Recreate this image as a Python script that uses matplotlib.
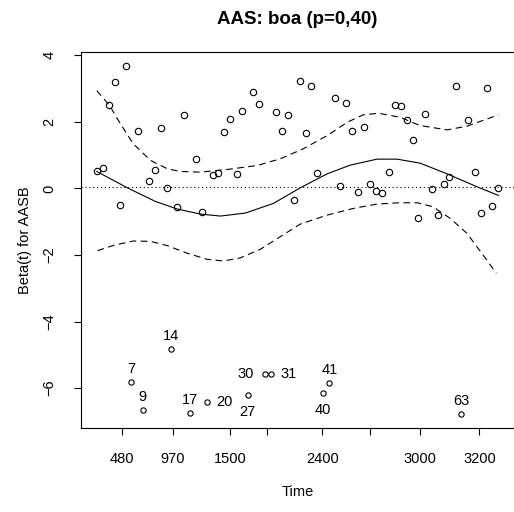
import numpy as np
import matplotlib
matplotlib.use('Agg')
import matplotlib.pyplot as plt

plt.rcParams['font.family'] = ['Liberation Sans', 'DejaVu Sans']
plt.rcParams['font.size'] = 10.5

# scaled residuals vs transformed (KM) time, one per event, index = point id
km_time = [0.000, 0.015, 0.030, 0.045, 0.057, 0.072, 0.086, 0.102, 0.114, 0.129,
           0.144, 0.159, 0.174, 0.186, 0.201, 0.216, 0.231, 0.246, 0.261, 0.274,
           0.289, 0.303, 0.318, 0.333, 0.348, 0.361, 0.376, 0.390, 0.405, 0.420,
           0.433, 0.447, 0.462, 0.477, 0.492, 0.506, 0.520, 0.534, 0.549, 0.563,
           0.579, 0.594, 0.606, 0.621, 0.636, 0.651, 0.665, 0.681, 0.696, 0.711,
           0.727, 0.742, 0.757, 0.772, 0.787, 0.801, 0.817, 0.834, 0.849, 0.864,
           0.878, 0.894, 0.908, 0.924, 0.941, 0.956, 0.971, 0.985, 1.000]
resid = [0.51, 0.60, 2.52, 3.21, -0.51, 3.69, -5.82, 1.73, -6.67, 0.21,
         0.54, 1.83, 0.00, -4.83, -0.57, 2.22, -6.75, 0.87, -0.70, -6.42,
         0.41, 0.45, 1.71, 2.10, 0.42, 2.34, -6.21, 2.91, 2.55, -5.58,
         -5.58, 2.31, 1.74, 2.22, -0.36, 3.24, 1.68, 3.09, 0.45, -6.14,
         -5.85, 2.73, 0.08, 2.58, 1.74, -0.12, 1.86, 0.12, -0.08, -0.15,
         0.49, 2.52, 2.49, 2.07, 1.47, -0.90, 2.25, -0.03, -0.80, 0.12,
         0.35, 3.09, -6.78, 2.07, 0.49, -0.75, 3.01, -0.54, 0.00]

# identified outliers and where their label sits
outlier_ids = [7, 9, 14, 17, 20, 27, 30, 31, 40, 41, 63]
outlier_pos = ['above', 'above', 'above', 'above', 'right', 'below',
               'left', 'right', 'below', 'above', 'above']

# smoothed beta(t) and its band
fit_x = [0.000, 0.076, 0.146, 0.201, 0.258, 0.308, 0.370, 0.440, 0.507, 0.574,
         0.631, 0.698, 0.748, 0.805, 0.868, 0.947, 1.000]
fit_y = [0.51, 0.02, -0.39, -0.62, -0.77, -0.83, -0.74, -0.45, 0.02, 0.44,
         0.70, 0.88, 0.88, 0.76, 0.46, 0.05, -0.21]
up_x = [0.000, 0.032, 0.059, 0.091, 0.134, 0.176, 0.208, 0.258, 0.325, 0.400,
        0.457, 0.514, 0.574, 0.624, 0.663, 0.701, 0.755, 0.805, 0.872, 0.922, 1.000]
up_y = [2.94, 2.49, 1.94, 1.34, 0.84, 0.59, 0.51, 0.49, 0.57, 0.69,
        0.89, 1.19, 1.59, 1.99, 2.21, 2.26, 2.14, 1.89, 1.76, 1.87, 2.21]
lo_x = [0.002, 0.042, 0.091, 0.134, 0.176, 0.226, 0.275, 0.315, 0.357, 0.407,
        0.457, 0.507, 0.574, 0.639, 0.698, 0.755, 0.798, 0.837, 0.880, 0.922,
        0.962, 0.995]
lo_y = [-1.87, -1.71, -1.58, -1.59, -1.72, -1.95, -2.13, -2.18, -2.09, -1.83,
        -1.45, -1.07, -0.80, -0.60, -0.47, -0.43, -0.43, -0.55, -0.90, -1.35,
        -2.00, -2.55]
coef = 0.03

tick_pos = [0.063, 0.190, 0.333, 0.425, 0.562, 0.681, 0.805, 0.953]
tick_lab = ['480', '970', '1500', '', '2400', '', '3000', '3200']

W, H = 514, 512
fig = plt.figure(figsize=(W / 100, H / 100), dpi=100)
ax = fig.add_axes([80.7 / W, (H - 428) / H, (514.4 - 80.7) / W, (428 - 51.7) / H])

x = np.array(km_time)
y = np.array(resid)
is_out = np.zeros(len(x), bool)
is_out[np.array(outlier_ids) - 1] = True

ax.plot(x[~is_out], y[~is_out], 'o', ms=4.6, mfc='none', mec='black', mew=0.8)
ax.plot(x[is_out], y[is_out], 'o', ms=3.8, mfc='none', mec='black', mew=0.8)

offsets = {'above': (0, 9.6, 'center', 'center'),
           'below': (0, -12.5, 'center', 'center'),
           'right': (7, 0, 'left', 'center'),
           'left': (-8, 0, 'right', 'center')}
for i, pos in zip(outlier_ids, outlier_pos):
    dx, dy, ha, va = offsets[pos]
    ax.annotate(str(i), (x[i - 1], y[i - 1]), xytext=(dx, dy),
                textcoords='offset points', ha=ha, va=va, fontsize=10.5)

ax.plot(fit_x, fit_y, color='black', lw=0.8)
ax.plot(up_x, up_y, color='black', lw=0.8, linestyle=(0, (6, 4)))
ax.plot(lo_x, lo_y, color='black', lw=0.8, linestyle=(0, (6, 4)))
ax.axhline(coef, color='black', lw=0.8, linestyle=(0, (1, 2.5)))

span = y.max() - y.min()
ax.set_xlim(-0.04, 1.04)
ax.set_ylim(y.min() - 0.04 * span, y.max() + 0.04 * span)

ax.set_xticks(tick_pos)
ax.set_xticklabels(tick_lab)
ax.set_yticks([-6, -4, -2, 0, 2, 4])
ax.tick_params(direction='out', length=5, width=0.8, pad=12.5)
ax.tick_params(axis='y', labelrotation=90)
for t in ax.get_yticklabels():
    t.set_va('center')

for s in ax.spines.values():
    s.set_linewidth(0.8)

ax.set_title('AAS: boa (p=0,40)', fontsize=13.5, fontweight='bold', pad=20)
fig.text(297.5 / W, 1 - 492 / H, 'Time', ha='center', va='center', fontsize=10.5)
fig.text(25 / W, 1 - 240 / H, 'Beta(t) for AASB', ha='center', va='center',
         rotation=90, fontsize=10.5)

fig.savefig('out.png', dpi=100)
